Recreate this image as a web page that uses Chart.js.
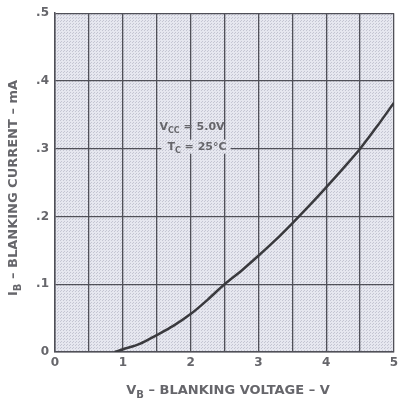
<!DOCTYPE html>
<html>
<head>
<meta charset="utf-8">
<script src="https://cdn.jsdelivr.net/npm/chart.js@4"></script>
<style>
  html, body { margin: 0; padding: 0; background: #fff; }
  #wrap { width: 398px; height: 406px; position: relative; }
</style>
</head>
<body>
<div id="wrap"><canvas id="chart"></canvas></div>
<script>
// Datos (V_B en voltios, I_B en mA)
const voltage = [0.88, 1.0, 1.25, 1.5, 1.75, 2.0, 2.25, 2.5, 2.75, 3.0, 3.25, 3.5, 3.75, 4.0, 4.25, 4.5, 4.75, 5.0];
const current = [0.0, 0.004, 0.012, 0.025, 0.039, 0.056, 0.077, 0.1, 0.12, 0.142, 0.165, 0.19, 0.216, 0.243, 0.271, 0.3, 0.333, 0.368];

const xTickLabels = ["0", "1", "2", "3", "4", "5"];
const yTickLabels = ["0", ".1", ".2", ".3", ".4", ".5"];

const inkColor = "#66666b";
const fontFam = "'DejaVu Sans', sans-serif";

// escribe texto con subindices: parts = [[texto, esSub], ...]
function drawSub(ctx, parts, x, y, size) {
    let cx = x;
    parts.forEach(function (p) {
        ctx.font = "bold " + (p[1] ? size - 3 : size) + "px " + fontFam;
        ctx.fillText(p[0], cx, p[1] ? y + 4 : y);
        cx += ctx.measureText(p[0]).width;
    });
    return cx - x;
}

function measureSub(ctx, parts, size) {
    let w = 0;
    parts.forEach(function (p) {
        ctx.font = "bold " + (p[1] ? size - 3 : size) + "px " + fontFam;
        w += ctx.measureText(p[0]).width;
    });
    return w;
}

// textura punteada del papel milimetrado
function makePattern(ctx) {
    const c = document.createElement("canvas");
    c.width = 3;
    c.height = 3;
    const p = c.getContext("2d");
    p.fillStyle = "#e6e7ef";
    p.fillRect(0, 0, 3, 3);
    p.fillStyle = "#c4c5d2";
    p.fillRect(0, 0, 1, 1);
    p.fillRect(1, 2, 1, 1);
    return ctx.createPattern(c, "repeat");
}

// fondo del area del grafico
const bgPlugin = {
    id: "bgPlugin",
    beforeDraw: function (chart) {
        const a = chart.chartArea;
        const ctx = chart.ctx;
        ctx.save();
        ctx.fillStyle = makePattern(ctx);
        ctx.fillRect(a.left, a.top, a.right - a.left, a.bottom - a.top);
        ctx.restore();
    }
};

// titulos de ejes y la nota de condiciones
const textPlugin = {
    id: "textPlugin",
    afterDraw: function (chart) {
        const ctx = chart.ctx;
        const xs = chart.scales.x;
        const ys = chart.scales.y;
        ctx.save();
        ctx.fillStyle = inkColor;
        ctx.textBaseline = "middle";

        // eje x
        const xParts = [["V", false], ["B", true], [" \u2013 BLANKING VOLTAGE \u2013 V", false]];
        const xw = measureSub(ctx, xParts, 13);
        drawSub(ctx, xParts, 228 - xw / 2, 391, 13);

        // eje y (rotado)
        const yParts = [["I", false], ["B", true], [" \u2013 BLANKING CURRENT \u2013 mA", false]];
        const yw = measureSub(ctx, yParts, 13);
        ctx.save();
        ctx.translate(14, 188);
        ctx.rotate(-Math.PI / 2);
        drawSub(ctx, yParts, -yw / 2, 0, 13);
        ctx.restore();

        // nota
        const n1 = [["V", false], ["CC", true], [" = 5.0V", false]];
        const n2 = [["T", false], ["C", true], [" = 25\u00b0C", false]];
        const x0 = xs.getPixelForValue(1.54);
        const y1 = ys.getPixelForValue(0.332);
        const y2 = ys.getPixelForValue(0.303);
        const w2 = measureSub(ctx, n2, 11);
        ctx.fillStyle = makePattern(ctx);
        ctx.fillRect(x0 + 2, y2 - 7, w2 + 10, 14);
        ctx.fillStyle = inkColor;
        drawSub(ctx, n1, x0, y1, 11);
        drawSub(ctx, n2, x0 + 8, y2, 11);
        ctx.restore();
    }
};

const points = voltage.map(function (v, i) { return { x: v, y: current[i] }; });

new Chart(document.getElementById("chart"), {
    type: "line",
    data: {
        datasets: [
            {
                data: points,
                borderColor: "#3a3a3e",
                borderWidth: 2.5,
                pointRadius: 0,
                fill: false,
                cubicInterpolationMode: "monotone"
            }
        ]
    },
    options: {
        responsive: true,
        maintainAspectRatio: false,
        animation: false,
        layout: { padding: { left: 0, right: 4, top: 13, bottom: 0 } },
        plugins: {
            legend: { display: false },
            tooltip: { enabled: false }
        },
        scales: {
            x: {
                type: "linear",
                min: 0,
                max: 5,
                ticks: {
                    stepSize: 0.5,
                    autoSkip: false,
                    maxRotation: 0,
                    padding: 4,
                    color: inkColor,
                    font: { size: 12, family: fontFam, weight: "bold" },
                    callback: function (value) {
                        return Number.isInteger(value) ? xTickLabels[value] : "";
                    }
                },
                grid: { color: "#505058", lineWidth: 1.3, drawTicks: false },
                border: { color: "#505058", width: 1.5 },
                afterFit: function (scale) {
                    scale.height = 54;
                    scale.paddingRight = 0;
                }
            },
            y: {
                min: 0,
                max: 0.5,
                ticks: {
                    stepSize: 0.1,
                    padding: 6,
                    color: inkColor,
                    font: { size: 12, family: fontFam, weight: "bold" },
                    callback: function (value) {
                        return yTickLabels[Math.round(value * 10)];
                    }
                },
                grid: { color: "#505058", lineWidth: 1.3, drawTicks: false },
                border: { color: "#505058", width: 1.5 },
                afterFit: function (scale) { scale.width = 55; }
            }
        }
    },
    plugins: [bgPlugin, textPlugin]
});
</script>
</body>
</html>
